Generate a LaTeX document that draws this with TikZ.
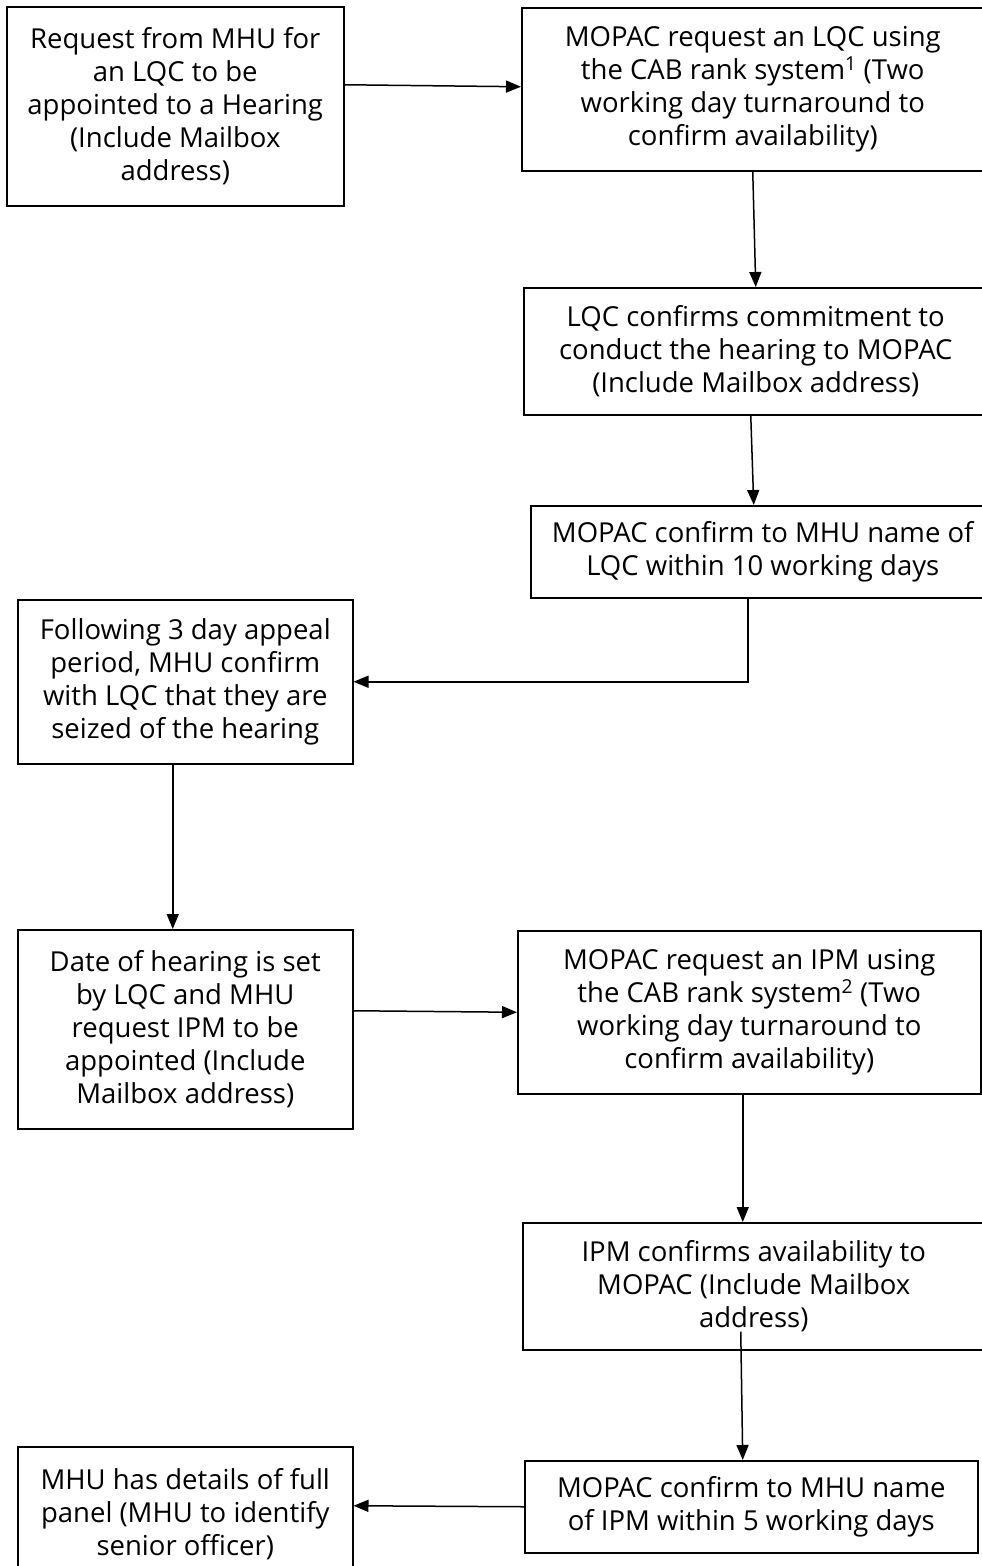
\documentclass[tikz,border=0pt]{standalone}
\usepackage{fontspec}
\setmainfont{Open Sans}
\usepackage{tikz}
\usetikzlibrary{arrows.meta,calc,positioning}

\begin{document}
\begin{tikzpicture}[->,>={Triangle[length=15pt,width=12pt]},x=1pt,y=-1pt,line width=1.5pt]
\tikzstyle{every node}=[draw,rectangle,anchor=north west,align=center,inner sep=0pt,font=\fontsize{27.5}{33}\selectfont]

\useasboundingbox (0,0) rectangle (982,1566);

\node[minimum width=337pt,minimum height=199pt] (request) at (6,6) {Request from MHU for\\an LQC to be\\appointed to a Hearing\\(Include Mailbox\\address)};
\node[minimum width=462pt,minimum height=163pt] (mopaclqc) at (521,7) {MOPAC request an LQC using\\the CAB rank system\textsuperscript{1} (Two\\working day turnaround to\\confirm availability)};
\node[minimum width=464pt,minimum height=127pt] (lqcconfirm) at (523,287) {LQC confirms commitment to\\conduct the hearing to MOPAC\\(Include Mailbox address)};
\node[minimum width=464pt,minimum height=92pt] (lqcname) at (530,505) {MOPAC confirm to MHU name of\\LQC within 10 working days};

\node[minimum width=335pt,minimum height=164pt] (seized) at (17,599) {Following 3 day appeal\\period, MHU confirm\\with LQC that they are\\seized of the hearing};
\node[minimum width=335pt,minimum height=199pt] (date) at (17,929) {Date of hearing is set\\by LQC and MHU\\request IPM to be\\appointed (Include\\Mailbox address)};
\node[minimum width=463pt,minimum height=163pt] (mopacipm) at (517,930) {MOPAC request an IPM using\\the CAB rank system\textsuperscript{2} (Two\\working day turnaround to\\confirm availability)};

\node[minimum width=462pt,minimum height=127pt] (ipmconfirm) at (522,1222) {IPM confirms availability to\\MOPAC (Include Mailbox\\address)};
\node[minimum width=453pt,minimum height=92pt] (ipmname) at (524,1460) {MOPAC confirm to MHU name\\of IPM within 5 working days};
\node[minimum width=335pt,minimum height=134pt] (panel) at (17,1446) {MHU has details of full\\panel (MHU to identify\\senior officer)};

\path
	([yshift=21.5pt]request.east) edge ([yshift=2.5pt]mopaclqc.west)
	(mopaclqc.south) edge (lqcconfirm.north)
	([xshift=-5pt]lqcconfirm.south) edge ([xshift=-9pt]lqcname.north)
	([xshift=-12.5pt]seized.south) edge ([xshift=-12.5pt]date.north)
	([yshift=18.5pt]date.east) edge (mopacipm.west)
	([xshift=-6.5pt]mopacipm.south) edge ([xshift=-11pt]ipmconfirm.north)
	([xshift=-13pt,yshift=19pt]ipmconfirm.south) edge ([xshift=-8.5pt]ipmname.north)
	(ipmname.west) edge ([yshift=8pt]panel.east);
\draw ([xshift=-15pt]lqcname.south) |- (seized.east);
\end{tikzpicture}
\end{document}
